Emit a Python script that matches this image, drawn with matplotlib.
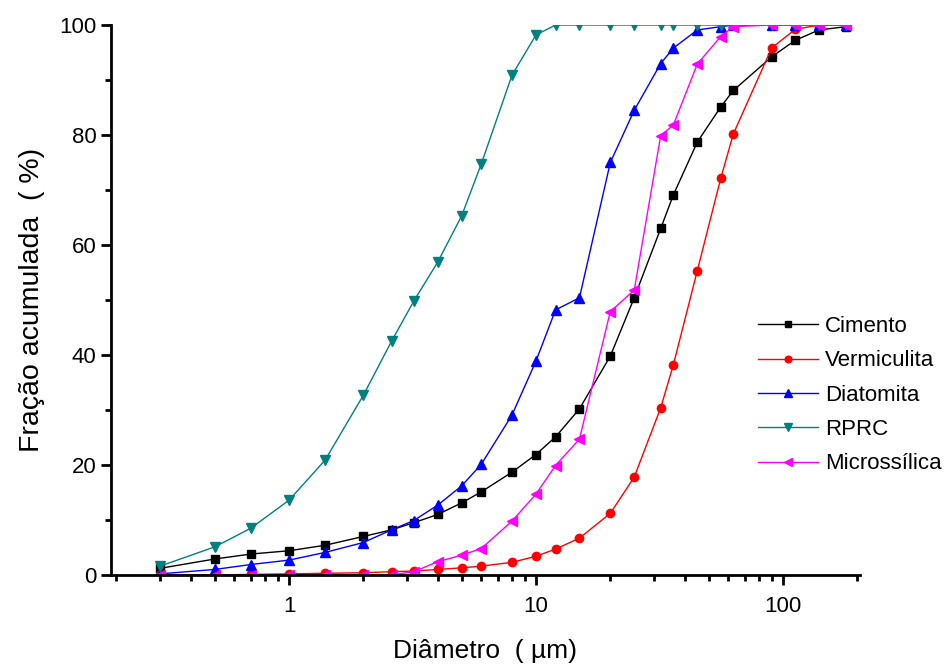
import numpy as np
import matplotlib.pyplot as plt

plt.rcParams['font.family'] = ['Liberation Sans', 'DejaVu Sans']

# diametro (um)
diam = [0.3, 0.5, 0.7, 1.0, 1.4, 2.0, 2.6, 3.2, 4.0, 5.0, 6.0, 8.0, 10, 12, 15,
        20, 25, 32, 36, 45, 56, 63, 90, 112, 140, 180]

cimento = [1.2, 2.9, 3.8, 4.4, 5.4, 7.0, 8.2, 9.5, 11.0, 13.1, 15.1, 18.7, 21.9, 25.1, 30.2,
           39.8, 50.4, 63.0, 69.1, 78.7, 85.1, 88.1, 94.2, 97.2, 99.1, 99.7]
vermiculita = [0.0, 0.0, 0.1, 0.2, 0.3, 0.4, 0.6, 0.7, 1.0, 1.3, 1.6, 2.3, 3.4, 4.7, 6.7,
               11.2, 17.8, 30.4, 38.2, 55.3, 72.1, 80.2, 95.8, 99.2, 100, 100]
diatomita = [0.2, 1.0, 1.9, 2.7, 4.1, 5.9, 8.2, 9.9, 12.7, 16.2, 20.1, 29.1, 38.9, 48.2, 50.4,
             75.0, 84.5, 93.0, 95.8, 99.1, 99.7, 100, 100, 100, 100, 100]
rprc = [1.6, 5.1, 8.5, 13.6, 20.9, 32.7, 42.5, 49.8, 56.9, 65.3, 74.7, 90.9, 98.2, 100, 100,
        100, 100, 100, 100, 100, 100, 100, 100, 100, 100, 100]
microssilica = [0.0, 0.0, 0.0, 0.0, 0.0, 0.0, 0.0, 0.6, 2.4, 3.6, 4.8, 9.8, 14.7, 19.9, 24.7,
                47.9, 51.8, 79.9, 81.8, 92.9, 97.9, 99.7, 100, 100, 100, 100]

fig = plt.figure(figsize=(9.47, 6.67), dpi=100)
ax = fig.add_axes([0.1172, 0.138, 0.7908, 0.8245])

ax.plot(diam, cimento, '-s', color='black', lw=1, ms=6, label='Cimento')
ax.plot(diam, vermiculita, '-o', color='#ff0000', lw=1, ms=6, label='Vermiculita')
ax.plot(diam, diatomita, '-^', color='#0000ff', lw=1, ms=7, label='Diatomita')
ax.plot(diam, rprc, '-v', color='#008080', lw=1, ms=7, label='RPRC')
ax.plot(diam, microssilica, '-<', color='#ff00ff', lw=1, ms=7, label='Microssílica')

ax.set_xscale('log')
ax.set_xlim(0.19, 205)
ax.set_ylim(0, 100)
ax.set_yticks([0, 20, 40, 60, 80, 100])
ax.set_yticks(np.arange(10, 100, 20), minor=True)
ax.set_xticks([1, 10, 100])
ax.set_xticklabels(['1', '10', '100'])

for s in ['top', 'right']:
    ax.spines[s].set_visible(False)
for s in ['left', 'bottom']:
    ax.spines[s].set_linewidth(2)

ax.tick_params(which='major', length=7, width=2, labelsize=16, direction='out')
ax.tick_params(which='minor', length=4, width=2, direction='out')
ax.tick_params(axis='x', pad=8)

ax.set_xlabel('Diâmetro  ( µm)', fontsize=19, labelpad=16)
ax.set_ylabel('Fração acumulada  ( %)', fontsize=20.5, labelpad=10)

ax.legend(loc='upper left', bbox_to_anchor=(758 / 947, 1 - 316 / 667),
          bbox_transform=fig.transFigure, frameon=False, fontsize=16,
          handlelength=2.7, labelspacing=0.6, borderaxespad=0, borderpad=0,
          handletextpad=0.3, markerscale=0.8)

fig.savefig('out.png', dpi=100)
